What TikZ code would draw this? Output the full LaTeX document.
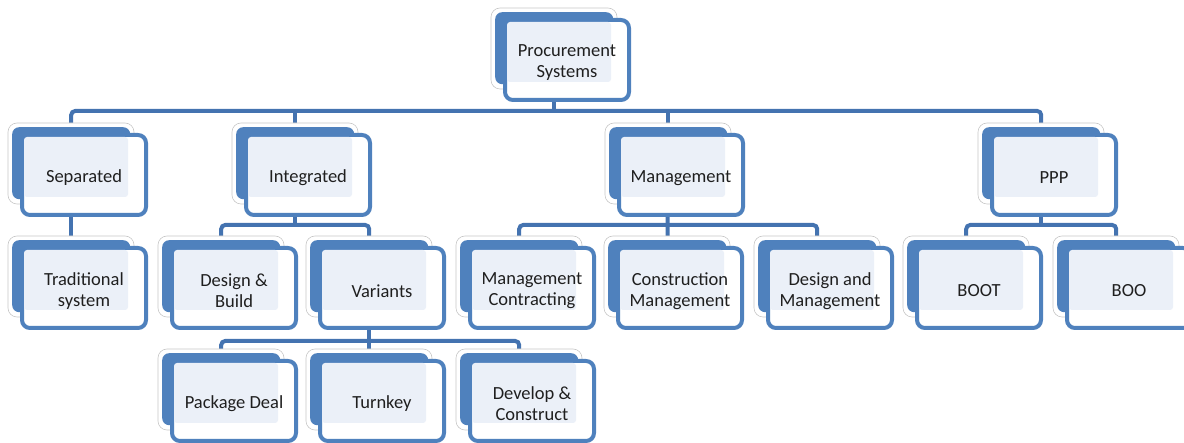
\documentclass[tikz,border=0pt]{standalone}
\usepackage{fontspec}
\setmainfont{Carlito}
\definecolor{cardblue}{HTML}{4F81BD}
\definecolor{connblue}{HTML}{4473B0}
\definecolor{textarea}{HTML}{EBF0F8}
\definecolor{txt}{HTML}{1F1F1F}
\pgfdeclarelayer{bg}
\pgfsetlayers{bg,main}
\tikzset{
  rim/.style={draw=black!22, line width=0.6pt, fill=white, rounded corners=9pt},
  backbox/.style={fill=cardblue, draw=none, rounded corners=7pt, minimum width=118pt, minimum height=72pt, inner sep=0pt, anchor=north west},
  frontbox/.style={draw=cardblue, line width=4pt, fill=white, rounded corners=8pt},
  tarea/.style={fill=textarea, rounded corners=3pt},
  lbl/.style={font=\fontsize{18.5}{21}\selectfont, text=txt, align=center, inner sep=0pt},
  conn/.style={draw=connblue, line width=4pt, rounded corners=4pt}
}
\newcommand\card[4]{%
  \draw[rim] (#2-4,#3-4) rectangle (#2+122,#3+77);
  \node[backbox] (#1) at (#2,#3) {};
  \draw[frontbox] (#2+10,#3+8) rectangle (#2+134,#3+88);
  \fill[tarea] (#2+12,#3+10) rectangle (#2+116,#3+70);
  \node[lbl] (#1-t) at (#2+72,#3+51) {#4};
}
\begin{document}
\begin{tikzpicture}[x=1pt,y=-1pt]
\useasboundingbox (0,0) rectangle (1184,443);
\card{P}{495}{12}{Procurement\\Systems}
\card{S}{12}{127}{Separated}
\card{I}{236}{127}{Integrated}
\card{M}{609}{127}{Management}
\card{PP}{982}{127}{PPP}
\card{T}{12}{240}{Traditional\\system}
\card{DB}{162}{240}{Design \&\\Build}
\card{V}{310}{240}{Variants}
\card{MC}{460}{240}{Management\\Contracting}
\card{CM}{608}{240}{Construction\\Management}
\card{DM}{758}{240}{Design and\\Management}
\card{BOOT}{907}{240}{BOOT}
\card{BOO}{1057}{240}{BOO}
\card{PD}{162}{353}{Package Deal}
\card{TK}{310}{353}{Turnkey}
\card{DC}{460}{353}{Develop \&\\Construct}
\coordinate (bus1) at (568,111);
\coordinate (bus2) at (568,225);
\coordinate (bus3) at (568,341);
\begin{pgfonlayer}{bg}
  \draw[conn] (P.center) -- (P.center |- bus1);
  \draw[conn] (S.center) |- (bus1) -| (PP.center);
  \draw[conn] (I.center |- bus1) -- (I.center);
  \draw[conn] (M.center |- bus1) -- (M.center);
  \draw[conn] (S.center) -- (T.center);
  \draw[conn] (I.center) -- (I.center |- bus2);
  \draw[conn] (DB.center) |- (I.center |- bus2) -| (V.center);
  \draw[conn] (M.center) -- (CM.center);
  \draw[conn] (MC.center) |- (M.center |- bus2) -| (DM.center);
  \draw[conn] (PP.center) -- (PP.center |- bus2);
  \draw[conn] (BOOT.center) |- (PP.center |- bus2) -| (BOO.center);
  \draw[conn] (V.center) -- (V.center |- bus3);
  \draw[conn] (PD.center) |- (V.center |- bus3) -| (DC.center);
  \draw[conn] (TK.center |- bus3) -- (TK.center);
\end{pgfonlayer}
\end{tikzpicture}
\end{document}
